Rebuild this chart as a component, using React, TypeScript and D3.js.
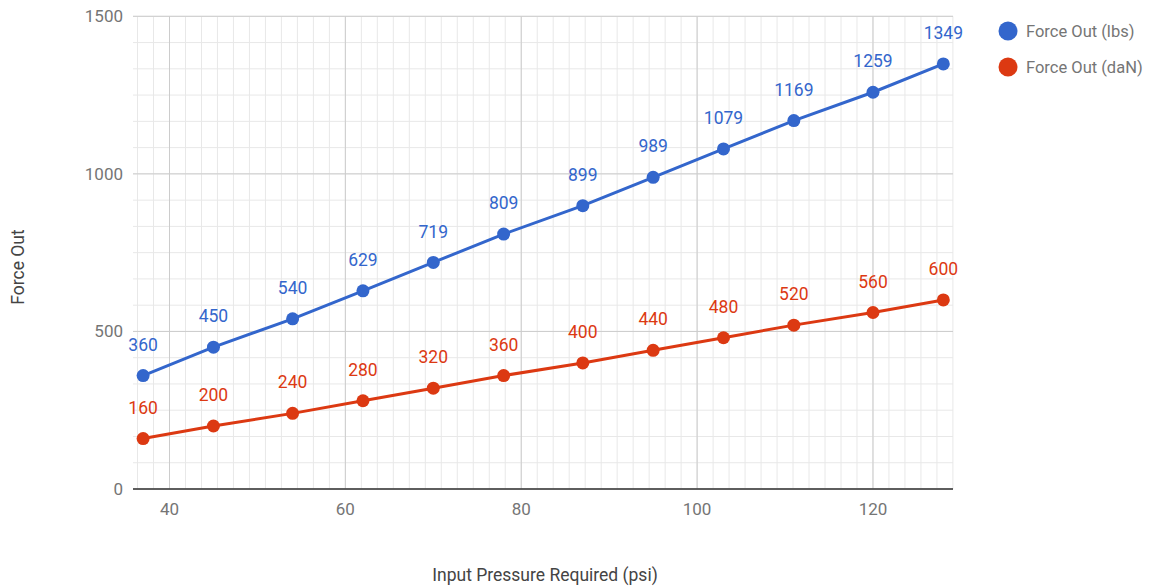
import React from "react";
import * as d3 from "d3";

const pressure = [37, 45, 54, 62, 70, 78, 87, 95, 103, 111, 120, 128];
const forceLbs = [360, 450, 540, 629, 719, 809, 899, 989, 1079, 1169, 1259, 1349];
const forceDaN = [160, 200, 240, 280, 320, 360, 400, 440, 480, 520, 560, 600];
const xTicks = [40, 60, 80, 100, 120];
const yTicks = [0, 500, 1000, 1500];
const seriesNames = ["Force Out (lbs)", "Force Out (daN)"];
const colors = ["#3366cc", "#dc3912"];

export default function App() {
  const W = 1157, H = 586;
  const left = 133, right = 953, top = 16.3, bottom = 489;
  const x = d3.scaleLinear().domain([35.85, 129.1]).range([left, right]);
  const y = d3.scaleLinear().domain([0, 1500]).range([bottom, top]);

  const xMinor: number[] = [];
  const xStep = 20 / 11;
  for (let v = 40 - 2 * xStep; v <= 129.1 + 0.01; v += xStep) xMinor.push(v);
  const yMinor: number[] = [];
  for (let v = 0; v <= 1500.01; v += 500 / 6) yMinor.push(v);

  const series = [forceLbs, forceDaN];
  const line = d3
    .line<number>()
    .x((_, i) => x(pressure[i]))
    .y((d) => y(d));

  const font = "Roboto, 'Noto Sans', sans-serif";

  return (
    <svg
      width={W}
      height={H}
      style={{ position: "absolute", left: 0, top: 0, background: "#fff" }}
      fontFamily={font}
    >
      <rect width={W} height={H} fill="#fff" />
      {xMinor.map((v, i) => (
        <line key={"xm" + i} x1={x(v)} x2={x(v)} y1={top} y2={bottom} stroke="#e8e8e8" strokeWidth={1} />
      ))}
      {yMinor.map((v, i) => (
        <line key={"ym" + i} x1={left} x2={right} y1={y(v)} y2={y(v)} stroke="#e8e8e8" strokeWidth={1} />
      ))}
      {xTicks.map((v) => (
        <line key={"xM" + v} x1={x(v)} x2={x(v)} y1={top} y2={bottom} stroke="#cccccc" strokeWidth={1} />
      ))}
      {yTicks.map((v) => (
        <line key={"yM" + v} x1={left} x2={right} y1={y(v)} y2={y(v)} stroke="#cccccc" strokeWidth={1} />
      ))}
      <line x1={left} x2={right} y1={y(0)} y2={y(0)} stroke="#333" strokeWidth={1.5} />

      {yTicks.map((v) => (
        <text key={"yt" + v} x={123} y={y(v)} dy="0.35em" textAnchor="end" fontSize={17} fill="#757575">
          {v}
        </text>
      ))}
      {xTicks.map((v) => (
        <text key={"xt" + v} x={x(v)} y={509.5} dy="0.35em" textAnchor="middle" fontSize={17} fill="#757575">
          {v}
        </text>
      ))}

      {series.map((s, si) => (
        <g key={"s" + si}>
          <path d={line(s) || ""} fill="none" stroke={colors[si]} strokeWidth={3} />
          {s.map((v, i) => (
            <circle key={i} cx={x(pressure[i])} cy={y(v)} r={6.5} fill={colors[si]} />
          ))}
          {s.map((v, i) => (
            <text
              key={"l" + i}
              x={x(pressure[i])}
              y={y(v) - 31}
              dy="0.35em"
              textAnchor="middle"
              fontSize={17.5}
              fill={colors[si]}
            >
              {v}
            </text>
          ))}
        </g>
      ))}

      {seriesNames.map((n, i) => (
        <g key={"lg" + i}>
          <circle cx={1008} cy={31 + i * 36} r={9.5} fill={colors[i]} />
          <text x={1026} y={31 + i * 36} dy="0.35em" fontSize={16.5} fill="#757575">
            {n}
          </text>
        </g>
      ))}

      <text
        transform={`translate(18, 267) rotate(-90)`}
        textAnchor="middle"
        dy="0.35em"
        fontSize={17.5}
        fill="#444"
      >
        Force Out
      </text>
      <text x={545} y={575} dy="0.35em" textAnchor="middle" fontSize={17.5} fill="#444">
        Input Pressure Required (psi)
      </text>
    </svg>
  );
}
